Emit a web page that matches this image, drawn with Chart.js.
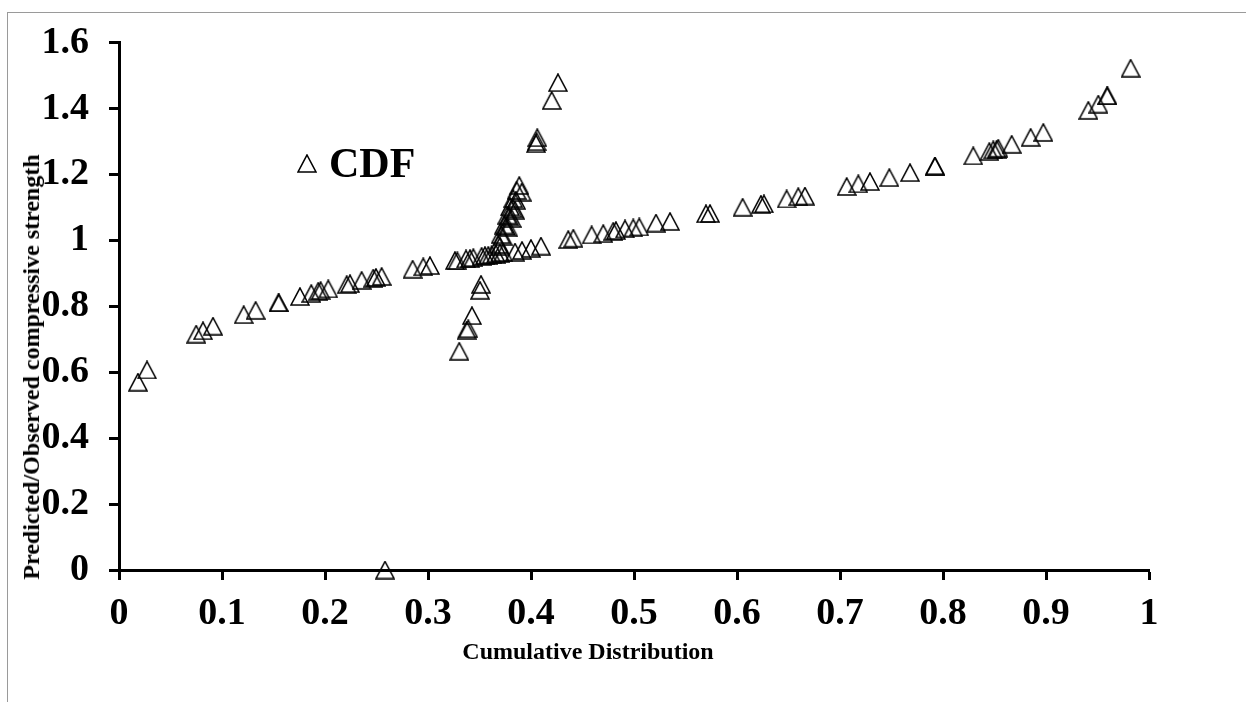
<!DOCTYPE html>
<html>
<head>
<meta charset="utf-8">
<script src="https://cdn.jsdelivr.net/npm/chart.js"></script>
<style>
    html, body { margin: 0; padding: 0; background: #fff; }
    #wrap { position: relative; width: 1246px; height: 702px; overflow: hidden; }
    #frame { position: absolute; left: 7px; top: 12px; width: 1300px; height: 800px;
             border-left: 1px solid #9a9a9a; border-top: 1px solid #9a9a9a; }
    canvas { position: absolute; left: 0; top: 0; }
    .txt { position: absolute; font-family: "Liberation Serif", "Times New Roman", serif;
           font-weight: bold; color: #000; white-space: nowrap; line-height: 1; }
    #xTitle { left: 588px; top: 639px; font-size: 24px; transform: translateX(-50%); }
    #yTitle { left: 31px; top: 367px; font-size: 24px; transform: translate(-50%, -50%) rotate(-90deg); }
    #legendText { left: 329px; top: 142px; font-size: 42px; }
</style>
</head>
<body>
<div id="wrap">
    <div id="frame"></div>
    <canvas id="chart" width="1246" height="702"></canvas>
    <div class="txt" id="xTitle">Cumulative Distribution</div>
    <div class="txt" id="yTitle">Predicted/Observed compressive strength</div>
    <div class="txt" id="legendText">CDF</div>
</div>
<script>
// cumulative distribution (x) and predicted/observed ratio (y)
const cumDist = [
    0.0184, 0.0272, 0.0750, 0.0816, 0.0913, 0.1211, 0.1327, 0.1550, 0.1550, 0.1757,
    0.1867, 0.1935, 0.1958, 0.2032, 0.2211, 0.2243, 0.2356, 0.2469, 0.2495, 0.2550,
    0.2583, 0.2851, 0.2954, 0.3019, 0.3262, 0.3285, 0.3369, 0.3408, 0.3440, 0.3521,
    0.3553, 0.3585, 0.3618, 0.3660, 0.3699, 0.3731, 0.3845, 0.3913, 0.4000, 0.4097,
    0.4362, 0.4411, 0.4589, 0.4702, 0.4799, 0.4825, 0.4913, 0.4993, 0.5051, 0.5214,
    0.5350, 0.5699, 0.5738, 0.6055, 0.6233, 0.6262, 0.6482, 0.6595, 0.6660, 0.7065,
    0.7178, 0.7291, 0.7479, 0.7680, 0.7922, 0.7922, 0.8294, 0.8450, 0.8488, 0.8521,
    0.8537, 0.8667, 0.8851, 0.8974, 0.9411, 0.9508, 0.9595, 0.9595, 0.9822,
    // rising branch
    0.3683, 0.3699, 0.3706, 0.3725, 0.3738, 0.3757, 0.3780, 0.3770, 0.3789, 0.3813,
    0.3796, 0.3822, 0.3845, 0.3828, 0.3854, 0.3861, 0.3910, 0.3886,
    // lower branch
    0.3304, 0.3376, 0.3391, 0.3427, 0.3505, 0.3515,
    // upper outliers
    0.4049, 0.4055, 0.4061, 0.4201, 0.4262
];
const ratio = [
    0.570, 0.607, 0.716, 0.726, 0.740, 0.775, 0.788, 0.811, 0.811, 0.830,
    0.839, 0.846, 0.848, 0.853, 0.866, 0.869, 0.879, 0.886, 0.888, 0.891,
    0.000, 0.913, 0.920, 0.924, 0.939, 0.938, 0.944, 0.945, 0.948, 0.952,
    0.954, 0.955, 0.957, 0.959, 0.962, 0.963, 0.965, 0.970, 0.976, 0.983,
    1.003, 1.007, 1.017, 1.021, 1.028, 1.030, 1.035, 1.038, 1.041, 1.053,
    1.058, 1.081, 1.082, 1.101, 1.110, 1.111, 1.126, 1.133, 1.135, 1.164,
    1.172, 1.179, 1.191, 1.206, 1.226, 1.226, 1.257, 1.270, 1.275, 1.277,
    1.280, 1.292, 1.313, 1.328, 1.395, 1.414, 1.439, 1.439, 1.523,
    0.988, 0.983, 1.018, 1.013, 1.047, 1.042, 1.038, 1.077, 1.072, 1.067,
    1.102, 1.097, 1.092, 1.127, 1.122, 1.152, 1.147, 1.167,
    0.664, 0.728, 0.732, 0.772, 0.849, 0.867,
    1.294, 1.300, 1.312, 1.425, 1.479
];
const xTicks = [0, 0.1, 0.2, 0.3, 0.4, 0.5, 0.6, 0.7, 0.8, 0.9, 1];
const xTickLabels = ['0', '0.1', '0.2', '0.3', '0.4', '0.5', '0.6', '0.7', '0.8', '0.9', '1'];
const yTicks = [0, 0.2, 0.4, 0.6, 0.8, 1, 1.2, 1.4, 1.6];
const yTickLabels = ['0', '0.2', '0.4', '0.6', '0.8', '1', '1.2', '1.4', '1.6'];

// open triangle marker like the spreadsheet one
function makeTriangle() {
    const c = document.createElement('canvas');
    c.width = 20;
    c.height = 19;
    const g = c.getContext('2d');
    g.strokeStyle = '#000';
    g.lineWidth = 1.6;
    g.beginPath();
    g.moveTo(10, 1);
    g.lineTo(19, 18);
    g.lineTo(1, 18);
    g.closePath();
    g.stroke();
    return c;
}
const tri = makeTriangle();

const points = cumDist.map((x, i) => ({ x: x, y: ratio[i] }));

const tickFont = { family: '"Liberation Serif", "Times New Roman", serif', size: 38, weight: 'bold' };

const legendMarker = {
    id: 'legendMarker',
    afterDraw(chart) {
        chart.ctx.drawImage(tri, 297, 154);
    }
};

new Chart(document.getElementById('chart'), {
    type: 'scatter',
    data: {
        datasets: [{
            label: 'CDF',
            data: points,
            pointStyle: tri,
            pointRadius: 9,
            showLine: false,
            clip: false
        }]
    },
    options: {
        responsive: false,
        animation: false,
        layout: { padding: { left: 0, top: 33, right: 97, bottom: 0 } },
        plugins: { legend: { display: false }, tooltip: { enabled: false } },
        scales: {
            x: {
                type: 'linear',
                min: 0,
                max: 1,
                afterBuildTicks: s => { s.ticks = xTicks.map(v => ({ value: v })); },
                afterFit: s => { s.height = 132; },
                ticks: {
                    font: tickFont, color: '#000', padding: 11, maxRotation: 0, autoSkip: false,
                    callback: (v, i) => xTickLabels[i]
                },
                grid: { drawOnChartArea: false, tickLength: 10, tickWidth: 3, tickColor: '#000' },
                border: { color: '#000', width: 3 }
            },
            y: {
                type: 'linear',
                min: 0,
                max: 1.6,
                afterBuildTicks: s => { s.ticks = yTicks.map(v => ({ value: v })); },
                afterFit: s => { s.width = 119; },
                ticks: {
                    font: tickFont, color: '#000', padding: 20, autoSkip: false,
                    callback: (v, i) => yTickLabels[i]
                },
                grid: { drawOnChartArea: false, tickLength: 10, tickWidth: 3, tickColor: '#000' },
                border: { color: '#000', width: 3 }
            }
        }
    },
    plugins: [legendMarker]
});
</script>
</body>
</html>
